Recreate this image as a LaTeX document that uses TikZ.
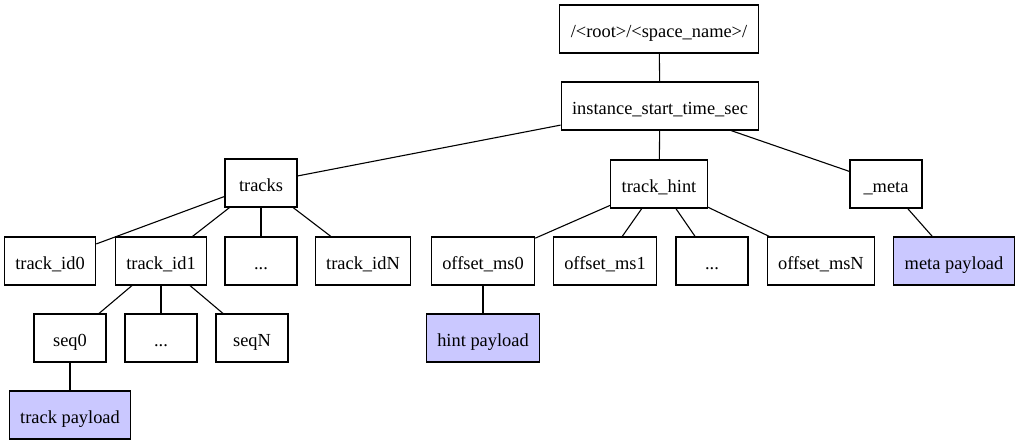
\documentclass[tikz,border=0pt]{standalone}
\usepackage{fontspec}
\setmainfont{Liberation Serif}
\definecolor{payload}{RGB}{202,200,255}
\begin{document}
\begin{tikzpicture}[x=1pt,y=-1pt,
  box/.style={draw=black,line width=1.1pt,rectangle,minimum width=72pt,minimum height=48pt,inner xsep=11pt,text height=17pt,text depth=0pt,font=\fontsize{18.4}{22}\selectfont},
  pay/.style={box,fill=payload},
  edge/.style={line width=1.1pt}]
\useasboundingbox (0,0) rectangle (1020,445);
\node[box] (root) at (659,29) {/<root>/<space\_name>/};
\node[box] (inst) at (660,106) {instance\_start\_time\_sec};
\node[box] (tracks) at (261,183) {tracks};
\node[box] (hint) at (659,184) {track\_hint};
\node[box] (meta) at (886,184) {\_meta};
\node[box] (tid0) at (50,261) {track\_id0};
\node[box] (tid1) at (161,261) {track\_id1};
\node[box] (tdots) at (261,261) {...};
\node[box] (tidN) at (363,261) {track\_idN};
\node[box] (om0) at (483,261) {offset\_ms0};
\node[box] (om1) at (605,261) {offset\_ms1};
\node[box] (odots) at (712,261) {...};
\node[box] (omN) at (821,261) {offset\_msN};
\node[pay] (metap) at (954,261) {meta payload};
\node[box] (seq0) at (70,338) {seq0};
\node[box] (sdots) at (161,338) {...};
\node[box] (seqN) at (252,338) {seqN};
\node[pay] (hintp) at (483,338) {hint payload};
\node[pay] (trackp) at (70,415) {track payload};
\draw[edge] (root) -- (inst);
\draw[edge] (inst) -- (tracks);
\draw[edge] (inst) -- (hint);
\draw[edge] (inst) -- (meta);
\draw[edge] (tracks) -- (tid0);
\draw[edge] (tracks) -- (tid1);
\draw[edge] (tracks) -- (tdots);
\draw[edge] (tracks) -- (tidN);
\draw[edge] (tid1) -- (seq0);
\draw[edge] (tid1) -- (sdots);
\draw[edge] (tid1) -- (seqN);
\draw[edge] (seq0) -- (trackp);
\draw[edge] (hint) -- (om0);
\draw[edge] (hint) -- (om1);
\draw[edge] (hint) -- (odots);
\draw[edge] (hint) -- (omN);
\draw[edge] (om0) -- (hintp);
\draw[edge] (meta) -- (metap);
\end{tikzpicture}
\end{document}
